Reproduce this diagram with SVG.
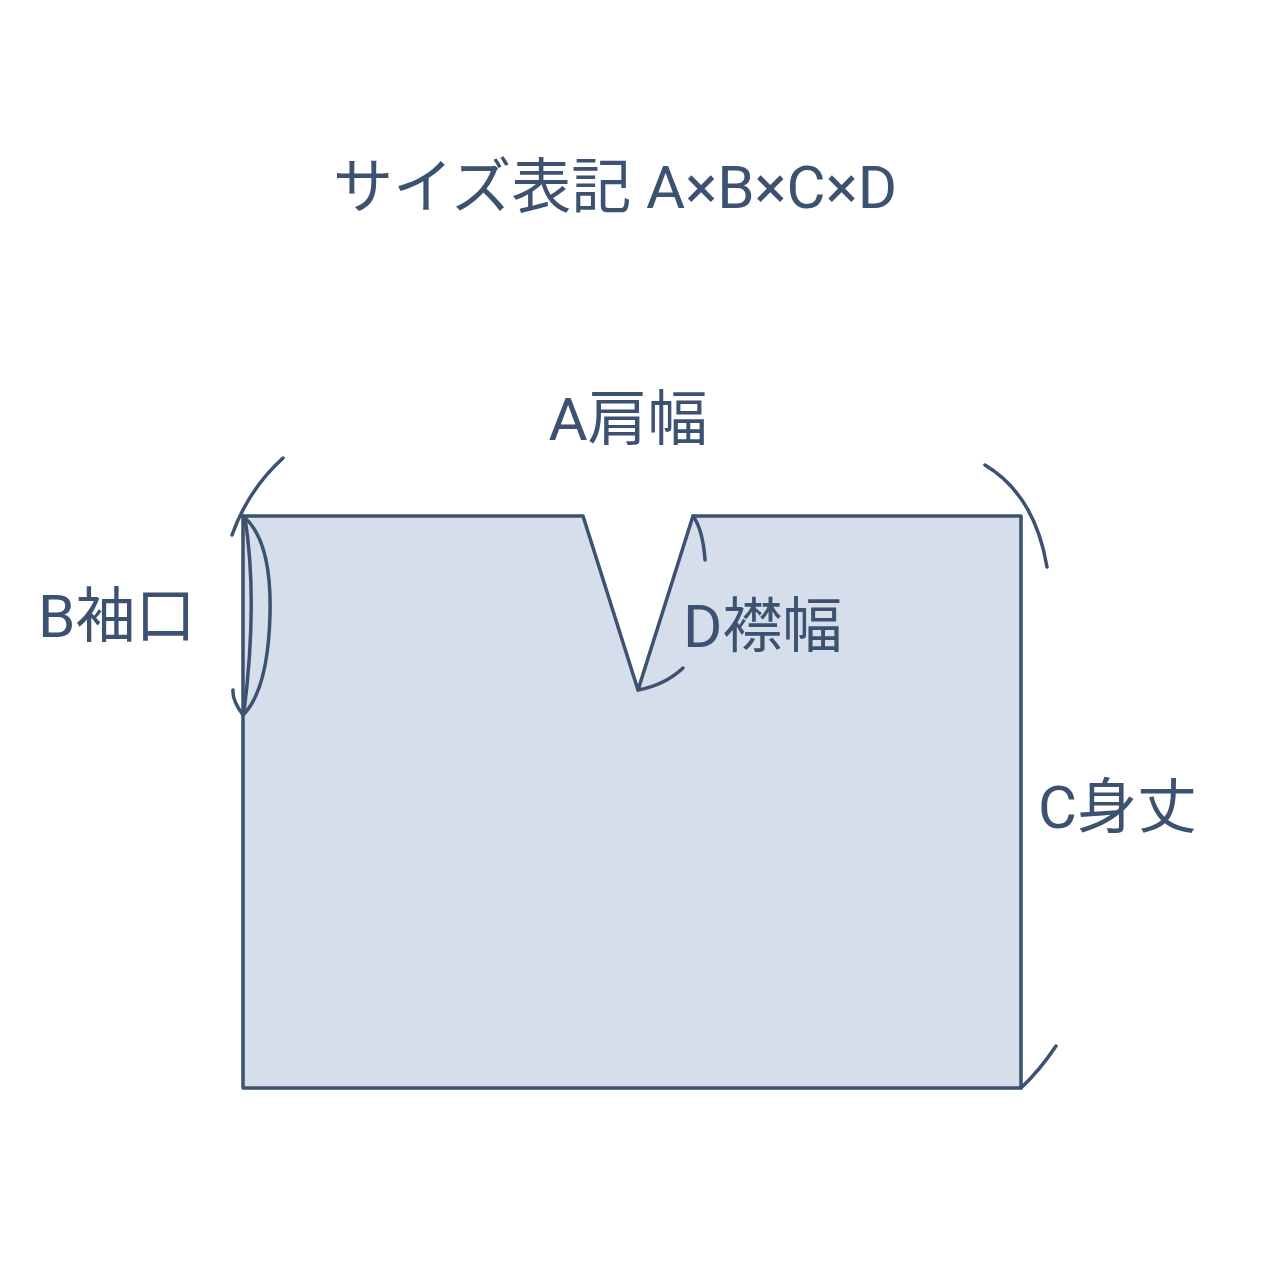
<svg xmlns="http://www.w3.org/2000/svg" width="1280" height="1280" viewBox="0 0 1280 1280">
<style>
.t{font-family:Roboto,"Noto Sans CJK JP",sans-serif;fill:#3d5170;font-size:60px}
.l{fill:none;stroke:#3d5170;stroke-width:3.5;stroke-linecap:round}
</style>
<rect width="1280" height="1280" fill="#fff"/>
<polygon points="243,516 583,516 638,690 693,516 1021,516 1021,1088 243,1088" fill="#d5deea" stroke="#3d5170" stroke-width="3.5" stroke-linejoin="round"/>
<path class="l" d="M283,458 Q248,490 232,535"/>
<path class="l" d="M243,516 Q272,540 270,615 Q268,690 243,715 Q232,700 233,690"/>
<path class="l" d="M245,518 Q258,600 244,712" stroke-width="2"/>
<path class="l" d="M985,465 Q1035,495 1047,567"/>
<path class="l" d="M1021,1088 Q1040,1070 1056,1046"/>
<path class="l" d="M693,516 Q703,530 705,560"/>
<path class="l" d="M638,690 Q665,685 683,668"/>
<text class="t" x="615" y="208" text-anchor="middle">サイズ表記 A×B×C×D</text>
<text class="t" x="628" y="440" text-anchor="middle">A肩幅</text>
<text class="t" x="38" y="637">B袖口</text>
<text class="t" x="683" y="647">D襟幅</text>
<text class="t" x="1038" y="828">C身丈</text>
</svg>
